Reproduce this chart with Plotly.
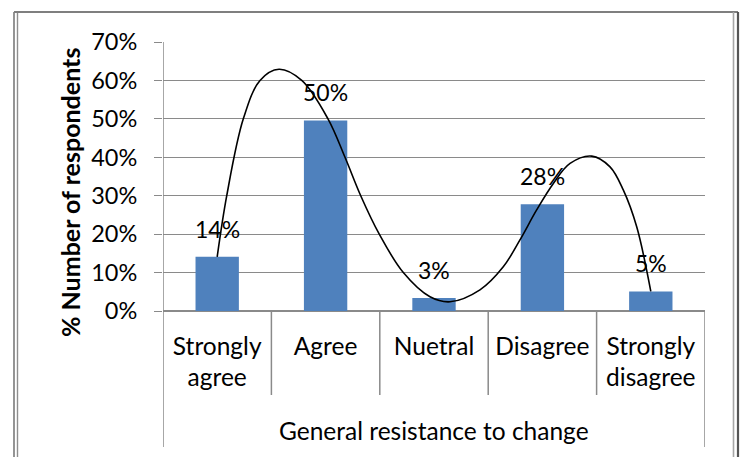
import plotly.graph_objects as go

# Survey responses: share of respondents per answer
categories = ["Strongly agree", "Agree", "Nuetral", "Disagree", "Strongly disagree"]
tick_labels = ["Strongly<br>agree", "Agree", "Nuetral", "Disagree", "Strongly<br>disagree"]
shares = [0.141, 0.496, 0.034, 0.278, 0.051]
group_label = "General resistance to change"
y_title = "% Number of respondents"
y_tick_values = [0.0, 0.1, 0.2, 0.3, 0.4, 0.5, 0.6, 0.7]

# Freehand trend curve drawn over the bars (x in category units)
curve_x = [0.0, 0.088, 0.241, 0.395, 0.570, 0.780, 1.022, 1.179, 1.324, 1.495,
           1.717, 1.963, 2.148, 2.424, 2.639, 2.793, 2.947, 3.101, 3.255, 3.455,
           3.624, 3.746, 3.870, 4.0]
curve_y = [0.141, 0.300, 0.500, 0.600, 0.629, 0.600, 0.500, 0.400, 0.300, 0.200,
           0.100, 0.037, 0.024, 0.055, 0.115, 0.185, 0.263, 0.332, 0.384, 0.403,
           0.375, 0.315, 0.219, 0.051]

W, H = 742, 457
ML, MR, MT, MB = 163, 37, 42, 146
PW, PH = W - ML - MR, H - MT - MB

FONT = "Lato, 'Open Sans', sans-serif"
GRID = "#8a8a8a"
BAR = "#4F81BD"


def px_x(px):
    return (px - ML) / PW


def px_y(py):
    return (H - MB - py) / PH


xpos = list(range(len(categories)))

fig = go.Figure()
fig.add_trace(go.Bar(
    x=xpos, y=shares, marker=dict(color=BAR, line=dict(width=0)),
    hoverinfo="skip", showlegend=False,
))
fig.add_trace(go.Scatter(
    x=curve_x, y=curve_y, mode="lines",
    line=dict(color="black", width=1.6, shape="spline", smoothing=1.0),
    hoverinfo="skip", showlegend=False,
))

annotations = []
# value labels above each bar
for xi, v in zip(xpos, shares):
    annotations.append(dict(
        x=xi, y=v, xref="x", yref="y", text=f"{v:.0%}", showarrow=False,
        yanchor="middle", yshift=28, font=dict(family=FONT, size=23, color="black"),
    ))
# group label under the category row
annotations.append(dict(
    x=(len(categories) - 1) / 2, y=px_y(430), xref="x", yref="paper",
    text=group_label, showarrow=False, yanchor="middle",
    font=dict(family=FONT, size=24.5, color="black"),
))
# y-axis title
annotations.append(dict(
    x=px_x(70), y=px_y(193), xref="paper", yref="paper", text=f"<b>{y_title}</b>",
    showarrow=False, textangle=-90, xanchor="center", yanchor="middle",
    font=dict(family=FONT, size=25, color="black"),
))

shapes = []
# category dividers below the axis
n = len(categories)
for k in range(n + 1):
    edge = k - 0.5
    bottom = px_y(447) if k in (0, n) else px_y(395)
    shapes.append(dict(type="line", xref="x", yref="paper", x0=edge, x1=edge,
                       y0=0, y1=bottom, line=dict(color=GRID, width=1.5)))
# value axis line
shapes.append(dict(type="line", xref="x", yref="paper", x0=-0.5, x1=-0.5,
                   y0=0, y1=1, line=dict(color=GRID, width=1.5)))
# chart frame
frame = [
    (14, 12, 14, 470, "#7a7a7a", 1.6),
    (17.5, 12, 17.5, 470, "#8e8e8e", 1.4),
    (14, 12, 738, 12, "#7f7f7f", 1.8),
    (733.5, 12, 733.5, 470, "#a6a6a6", 1.6),
    (738, 12, 738, 470, "#555555", 2.2),
]
for x0, y0, x1, y1, c, w in frame:
    shapes.append(dict(type="line", xref="paper", yref="paper",
                       x0=px_x(x0), x1=px_x(x1), y0=px_y(y0), y1=px_y(y1),
                       line=dict(color=c, width=w)))

fig.update_layout(
    width=W, height=H,
    margin=dict(l=ML, r=MR, t=MT, b=MB, pad=0),
    paper_bgcolor="white", plot_bgcolor="white",
    bargap=0.6,
    annotations=annotations, shapes=shapes,
    xaxis=dict(
        range=[-0.5, n - 0.5], tickmode="array", tickvals=xpos, ticktext=tick_labels,
        showgrid=False, zeroline=False, showline=False, ticks="",
        tickfont=dict(family=FONT, size=24.5, color="black"),
        ticklabelstandoff=18, fixedrange=True,
    ),
    yaxis=dict(
        range=[0, 0.7], tickmode="array", tickvals=y_tick_values, tickformat=".0%",
        showgrid=True, gridcolor=GRID, gridwidth=1.4,
        zeroline=True, zerolinecolor=GRID, zerolinewidth=1.5,
        showline=False, ticks="outside", ticklen=8, tickcolor=GRID, tickwidth=1.4,
        tickfont=dict(family=FONT, size=23.5, color="black"),
        ticklabelstandoff=12, fixedrange=True,
    ),
    font=dict(family=FONT, color="black"),
)

fig.write_html("out.html")
